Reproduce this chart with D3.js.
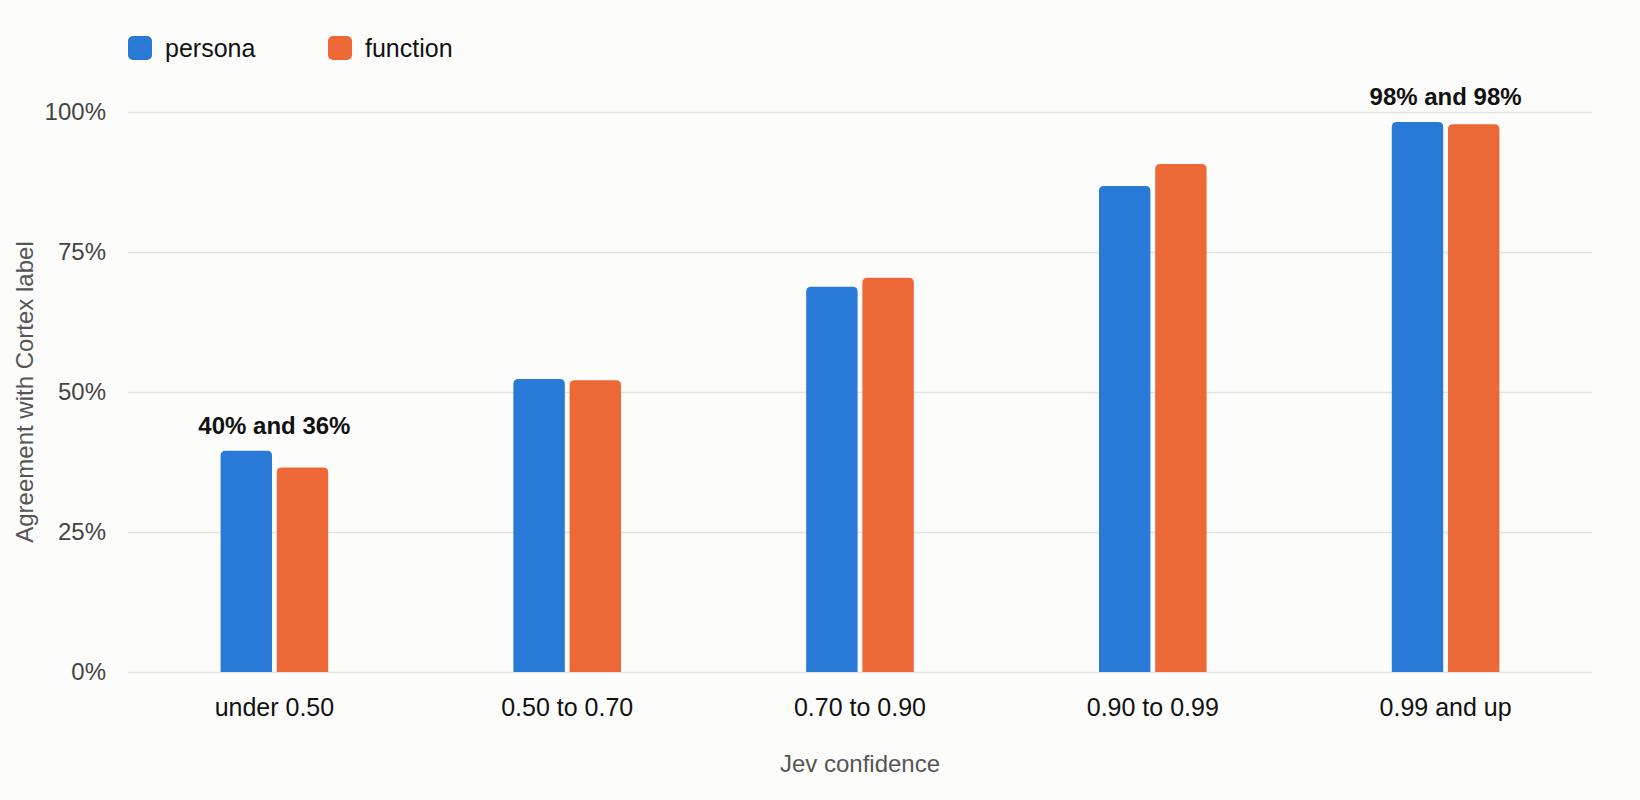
<!DOCTYPE html>
<html>
<head>
<meta charset="utf-8">
<script src="https://cdn.jsdelivr.net/npm/d3@7"></script>
<style>
  html, body { margin: 0; padding: 0; background: #fcfcfb; }
  svg { display: block; font-family: "Liberation Sans", Arial, Helvetica, sans-serif; }
</style>
</head>
<body>
<div id="chart"></div>
<script>
// Chart data
var categories = ['under 0.50', '0.50 to 0.70', '0.70 to 0.90', '0.90 to 0.99', '0.99 and up'];
var seriesNames = ['persona', 'function'];
var persona = [39.5, 52.3, 68.8, 86.8, 98.2];
var func = [36.5, 52.1, 70.4, 90.7, 97.8];
var yTicks = [0, 25, 50, 75, 100];
var notes = [
  { cat: 'under 0.50', text: '40% and 36%' },
  { cat: '0.99 and up', text: '98% and 98%' }
];
var colors = ['#2979d6', '#ec6836'];

(function() {
  var w = 1640;
  var h = 800;
  var margin = { top: 112, right: 48, bottom: 128, left: 128 };

  var svg = d3.select('#chart')
    .append('svg').attr('width', w).attr('height', h);

  svg.append('rect').attr('width', w).attr('height', h).attr('fill', '#fcfcfb');

  var x = d3.scaleBand()
    .domain(categories)
    .range([margin.left, w - margin.right]);

  var x1 = d3.scaleBand()
    .domain(seriesNames)
    .range([0, 107.6])
    .paddingInner(0.085);

  var y = d3.scaleLinear()
    .domain([0, 100])
    .range([h - margin.bottom, margin.top]);

  // Gridlines + y ticks
  var yAxis = svg.append('g')
    .attr('transform', 'translate(' + margin.left + ',0)')
    .call(d3.axisLeft(y).tickValues(yTicks).tickSize(-(w - margin.left - margin.right))
      .tickPadding(22).tickFormat(function(d) { return d + '%'; }));
  yAxis.select('.domain').remove();
  yAxis.selectAll('.tick line').attr('stroke', '#e4e4df').attr('stroke-width', 1.5);
  yAxis.selectAll('.tick text')
    .attr('fill', '#444').attr('font-size', 24)
    .attr('font-family', '"Liberation Sans", Arial, sans-serif');

  // Bars
  var rows = categories.map(function(c, i) {
    return { cat: c, vals: [persona[i], func[i]] };
  });

  function barPath(x0, y0, bw, y1, r) {
    r = Math.min(r, (y1 - y0));
    return 'M' + x0 + ',' + y1 +
      'V' + (y0 + r) +
      'Q' + x0 + ',' + y0 + ' ' + (x0 + r) + ',' + y0 +
      'H' + (x0 + bw - r) +
      'Q' + (x0 + bw) + ',' + y0 + ' ' + (x0 + bw) + ',' + (y0 + r) +
      'V' + y1 + 'Z';
  }

  var groups = svg.append('g').selectAll('g')
    .data(rows).enter().append('g')
    .attr('transform', function(d) {
      return 'translate(' + (x(d.cat) + x.bandwidth() / 2 - 107.6 / 2) + ',0)';
    });

  groups.selectAll('path')
    .data(function(d) { return d.vals.map(function(v, j) { return { s: seriesNames[j], v: v, j: j }; }); })
    .enter().append('path')
    .attr('fill', function(d) { return colors[d.j]; })
    .attr('d', function(d) {
      return barPath(x1(d.s), y(d.v), x1.bandwidth(), y(0), 5);
    });

  // Annotations
  svg.append('g').selectAll('text')
    .data(notes).enter().append('text')
    .attr('x', function(d) { return x(d.cat) + x.bandwidth() / 2; })
    .attr('y', function(d) {
      var i = categories.indexOf(d.cat);
      return y(Math.max(persona[i], func[i])) - 17;
    })
    .attr('text-anchor', 'middle')
    .attr('font-size', 24).attr('font-weight', 'bold').attr('fill', '#111')
    .text(function(d) { return d.text; });

  // X axis labels
  var xAxis = svg.append('g')
    .attr('transform', 'translate(0,' + (h - margin.bottom) + ')')
    .call(d3.axisBottom(x).tickSize(0).tickPadding(26));
  xAxis.select('.domain').remove();
  xAxis.selectAll('.tick text')
    .attr('fill', '#111').attr('font-size', 25)
    .attr('font-family', '"Liberation Sans", Arial, sans-serif');

  // Axis titles
  svg.append('text')
    .attr('x', (margin.left + w - margin.right) / 2)
    .attr('y', 772)
    .attr('text-anchor', 'middle')
    .attr('font-size', 24).attr('fill', '#555')
    .text('Jev confidence');

  svg.append('text')
    .attr('transform', 'translate(33,' + y(50) + ') rotate(-90)')
    .attr('text-anchor', 'middle')
    .attr('font-size', 24).attr('fill', '#555')
    .text('Agreement with Cortex label');

  // Legend
  var legend = svg.append('g').selectAll('g')
    .data(seriesNames).enter().append('g')
    .attr('transform', function(d, i) { return 'translate(' + (128 + i * 200) + ',36)'; });
  legend.append('rect')
    .attr('width', 24).attr('height', 24).attr('rx', 5)
    .attr('fill', function(d, i) { return colors[i]; });
  legend.append('text')
    .attr('x', 37).attr('y', 21)
    .attr('font-size', 25).attr('fill', '#111')
    .text(function(d) { return d; });
})();
</script>
</body>
</html>
